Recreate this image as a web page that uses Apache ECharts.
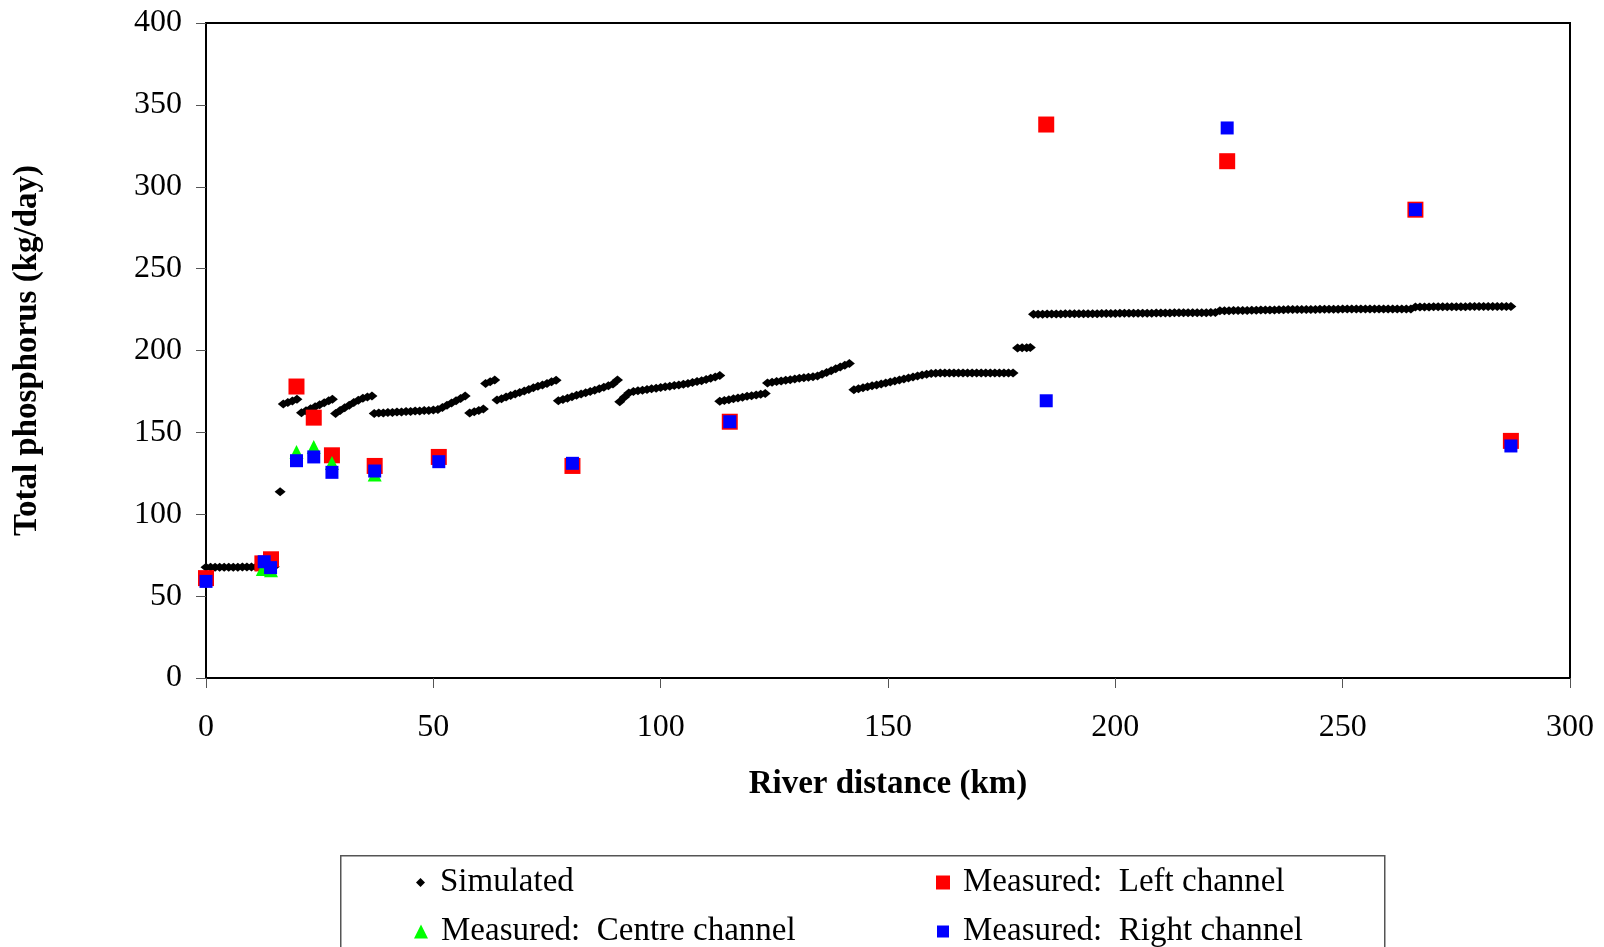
<!DOCTYPE html>
<html>
<head>
<meta charset="utf-8">
<script src="https://cdn.jsdelivr.net/npm/echarts@6/dist/echarts.min.js"></script>
<style>
html,body{margin:0;padding:0;background:#fff;}
#chart{width:1604px;height:947px;}
</style>
</head>
<body>
<div id="chart"></div>
<script>
// ---- Data ----
const xTicks = [0, 50, 100, 150, 200, 250, 300];
const yTicks = [0, 50, 100, 150, 200, 250, 300, 350, 400];

const simulated = [
 [0,67.6],[1,67.6],[2,67.7],[3,67.7],[4,67.7],[5,67.7],[6,67.7],[7,67.7],[8,67.8],[9,67.8],[10,67.8],[11,67.8],[12,67.8],[13,67.8],[14,67.9],[15,67.9],
 [16.3,113.8],
 [17,167.3],[18,168.2],[19,169.2],[20,170.2],
 [21,162.0],[22,163.2],[23,164.5],[24,165.7],[25,166.9],[26,168.1],[27,169.3],[27.8,170.3],
 [28.5,161.6],[29.5,163.3],[30.5,165.0],[31.5,166.6],[32.5,168.2],[33.5,169.6],[34.5,170.8],[35.5,171.6],[36.5,172.2],
 [37,161.6],[38,161.8],[39,161.9],[40,162.1],[41,162.2],[42,162.4],[43,162.5],[44,162.7],[45,162.8],[46,163.0],[47,163.1],[48,163.3],[49,163.4],[50,163.6],[51,164.0],[52,165.2],[53,166.5],[54,167.9],[55,169.3],[56,170.7],[57,172.2],
 [58,161.8],[59,162.6],[60,163.4],[61,164.2],
 [61.5,179.8],[62.5,180.9],[63.5,182.0],
 [64,169.7],[65,170.6],[66,171.6],[67,172.5],[68,173.5],[69,174.4],[70,175.3],[71,176.2],[72,177.2],[73,178.1],[74,179.0],[75,179.9],[76,180.9],[77,181.9],
 [77.5,169.3],[78.5,170.1],[79.5,170.9],[80.5,171.7],[81.5,172.6],[82.5,173.4],[83.5,174.2],[84.5,175.0],[85.5,175.8],[86.5,176.7],[87.5,177.5],[88.5,178.4],[89.5,179.6],[90.5,182.0],
 [91,168.7],[92,171.5],[93,174.0],[94,175.0],[95,175.4],[96,175.8],[97,176.2],[98,176.6],[99,177.0],[100,177.4],[101,177.8],[102,178.2],[103,178.6],[104,179.0],[105,179.4],[106,179.9],[107,180.4],[108,181.0],[109,181.6],[110,182.3],[111,183.0],[112,183.8],[113,184.7],
 [113,169.0],[114,169.5],[115,170.0],[116,170.5],[117,171.0],[118,171.5],[119,172.0],[120,172.4],[121,172.8],[122,173.3],[123,173.8],
 [123.5,180.2],[124.5,180.6],[125.5,181.0],[126.5,181.4],[127.5,181.8],[128.5,182.2],[129.5,182.6],[130.5,183.0],[131.5,183.3],[132.5,183.6],[133.5,184.0],[134.5,184.5],[135.5,185.5],[136.5,186.6],[137.5,187.7],[138.5,188.8],[139.5,189.9],[140.5,191.0],[141.5,192.0],
 [142.5,176.0],[143.5,176.6],[144.5,177.2],[145.5,177.8],[146.5,178.4],[147.5,179.0],[148.5,179.6],[149.5,180.2],[150.5,180.8],[151.5,181.4],[152.5,182.0],[153.5,182.6],[154.5,183.2],[155.5,183.8],[156.5,184.4],[157.5,185.0],[158.5,185.5],[159.5,185.9],[160.5,186.1],[161.5,186.2],[162.5,186.3],[163.5,186.3],[164.5,186.3],[165.5,186.3],[166.5,186.3],[167.5,186.3],[168.5,186.3],[169.5,186.3],[170.5,186.3],[171.5,186.3],[172.5,186.3],[173.5,186.3],[174.5,186.3],[175.5,186.3],[176.5,186.3],[177.5,186.3],
 [178.5,201.6],[179.5,201.7],[180.5,201.7],[181.3,201.8],
 [182,222.2],[183,222.2],[184,222.2],[185,222.3],[186,222.3],[187,222.3],[188,222.3],[189,222.4],[190,222.4],[191,222.4],[192,222.4],[193,222.5],[194,222.5],[195,222.5],[196,222.5],[197,222.6],[198,222.6],[199,222.6],[200,222.6],[201,222.7],[202,222.7],[203,222.7],[204,222.7],[205,222.8],[206,222.8],[207,222.8],[208,222.8],[209,222.9],[210,222.9],[211,222.9],[212,222.9],[213,223.0],[214,223.0],[215,223.0],[216,223.0],[217,223.1],[218,223.1],[219,223.1],[220,223.1],[221,223.2],[222,223.2],
 [223,224.2],[224,224.3],[225,224.3],[226,224.4],[227,224.4],[228,224.5],[229,224.5],[230,224.6],[231,224.6],[232,224.7],[233,224.7],[234,224.8],[235,224.8],[236,224.9],[237,224.9],[238,225.0],[239,225.0],[240,225.0],[241,225.1],[242,225.1],[243,225.1],[244,225.1],[245,225.2],[246,225.2],[247,225.2],[248,225.2],[249,225.2],[250,225.3],[251,225.3],[252,225.3],[253,225.3],[254,225.3],[255,225.3],[256,225.3],[257,225.4],[258,225.4],[259,225.4],[260,225.4],[261,225.4],[262,225.4],[263,225.4],[264,225.4],[265,225.4],
 [266,226.6],[267,226.6],[268,226.6],[269,226.6],[270,226.7],[271,226.7],[272,226.7],[273,226.7],[274,226.7],[275,226.7],[276,226.7],[277,226.7],[278,226.8],[279,226.8],[280,226.8],[281,226.8],[282,226.8],[283,226.8],[284,226.8],[285,226.8],[286,226.8],[287,226.8]
];

const leftChannel = [
 [0,61],[12.4,70],[14.3,72.5],[19.9,178],[23.7,159],[27.7,136],[37.1,129.5],[51.2,135],[80.6,129.5],[115.2,156.5],[184.8,338],[224.6,315.6],[266,286],[287,144.8]
];
const centreChannel = [
 [12.5,66.5],[14.3,65.8],[19.9,138],[23.7,141],[27.7,131.3],[37.1,124.2]
];
const rightChannel = [
 [0,59],[12.8,71],[14.2,67.4],[19.9,132.7],[23.7,135],[27.7,125.6],[37.1,126.4],[51.2,132.1],[80.6,131.1],[115.2,156.5],[184.8,169.3],[224.6,335.9],[266,286],[287,141.7]
];

const seriesNames = ['Simulated', 'Measured:  Left channel', 'Measured:  Centre channel', 'Measured:  Right channel'];

// ---- Chart ----
const FONT = '"Liberation Serif", "Times New Roman", serif';
const chart = echarts.init(document.getElementById('chart'), null, {renderer: 'canvas'});

function legendItem(name, left, top, w, h, padLeft) {
  return {
    data: [name], left: left, top: top, orient: 'horizontal',
    itemWidth: w, itemHeight: h, selectedMode: false, padding: 0,
    textStyle: {fontFamily: FONT, fontSize: 33, color: '#000', padding: [0, 0, 0, padLeft]}
  };
}

chart.setOption({
  animation: false,
  backgroundColor: '#fff',
  grid: {left: 206, top: 23, right: 34, bottom: 269, show: true, borderColor: '#000', borderWidth: 2, backgroundColor: 'transparent'},
  graphic: [{
    type: 'rect', left: 340, top: 855, shape: {width: 1044, height: 120},
    style: {fill: 'transparent', stroke: '#555', lineWidth: 1.5}, z: 0
  }],
  legend: [
    legendItem(seriesNames[0], 416, 866, 9, 9, 10),
    legendItem(seriesNames[1], 936, 866, 14, 14, 8),
    legendItem(seriesNames[2], 414, 915, 14, 14, 8),
    legendItem(seriesNames[3], 937, 915, 12, 12, 9)
  ],
  xAxis: {
    type: 'value', min: xTicks[0], max: xTicks[xTicks.length - 1], interval: 50,
    name: 'River distance (km)', nameLocation: 'middle', nameGap: 90,
    nameTextStyle: {fontFamily: FONT, fontSize: 33, fontWeight: 'bold', color: '#000'},
    axisLine: {show: true, onZero: false, lineStyle: {color: '#000', width: 2}},
    axisTick: {show: true, length: 10, inside: false, lineStyle: {color: '#555', width: 1}},
    axisLabel: {fontFamily: FONT, fontSize: 32, color: '#000', margin: 34},
    splitLine: {show: false}
  },
  yAxis: {
    type: 'value', min: yTicks[0], max: yTicks[yTicks.length - 1], interval: 50,
    name: 'Total phosphorus (kg/day)', nameLocation: 'middle', nameGap: 162,
    nameTextStyle: {fontFamily: FONT, fontSize: 33, fontWeight: 'bold', color: '#000'},
    axisLine: {show: true, onZero: false, lineStyle: {color: '#000', width: 2}},
    axisTick: {show: true, length: 10, inside: false, lineStyle: {color: '#555', width: 1}},
    axisLabel: {fontFamily: FONT, fontSize: 32, color: '#000', margin: 24},
    splitLine: {show: false}
  },
  series: [
    {name: seriesNames[0], type: 'scatter', data: simulated, symbol: 'diamond', symbolSize: [11, 9],
     itemStyle: {color: '#000', opacity: 1}, z: 2},
    {name: seriesNames[1], type: 'scatter', data: leftChannel, symbol: 'rect', symbolSize: 16,
     itemStyle: {color: '#ff0000', opacity: 1}, z: 3},
    {name: seriesNames[2], type: 'scatter', data: centreChannel, symbol: 'triangle', symbolSize: 14,
     itemStyle: {color: '#00ff00', opacity: 1}, z: 4},
    {name: seriesNames[3], type: 'scatter', data: rightChannel, symbol: 'rect', symbolSize: 13,
     itemStyle: {color: '#0000ff', opacity: 1}, z: 5}
  ]
});
</script>
</body>
</html>
